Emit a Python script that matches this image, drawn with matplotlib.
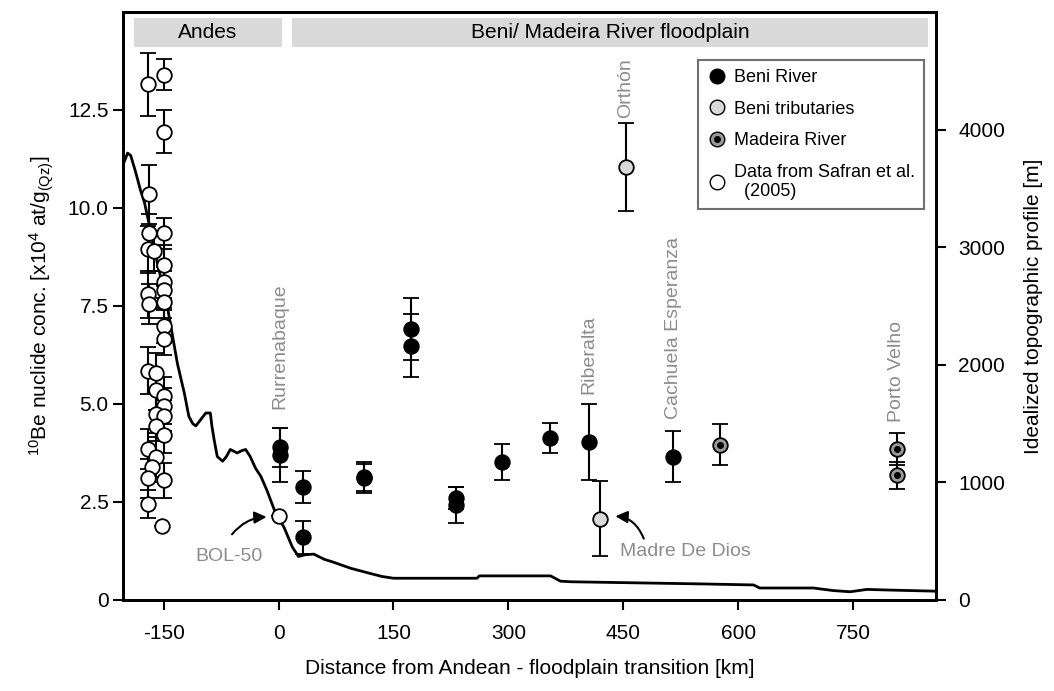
import numpy as np
import matplotlib.pyplot as plt
from matplotlib.lines import Line2D
from matplotlib.patches import Rectangle

plt.rcParams['font.family'] = ['Liberation Sans', 'DejaVu Sans']
plt.rcParams['mathtext.default'] = 'regular'
plt.rcParams['axes.unicode_minus'] = False

# Beni River (km, conc, 1 sigma)
beni_x = [2, 2, 32, 32, 111, 111, 173, 173, 232, 232, 291, 354, 405, 515]
beni_y = [3.9, 3.7, 2.88, 1.6, 3.15, 3.1, 6.92, 6.49, 2.6, 2.42, 3.52, 4.13, 4.03, 3.66]
beni_err = [0.5, 0.7, 0.4, 0.42, 0.38, 0.38, 0.79, 0.81, 0.28, 0.45, 0.45, 0.38, 0.98, 0.65]

# Beni tributaries (Madre De Dios, Orthon)
trib_x = [420, 453]
trib_y = [2.07, 11.05]
trib_err = [0.96, 1.12]

# Madeira River
mad_x = [576, 807, 807]
mad_y = [3.96, 3.86, 3.18]
mad_err = [0.52, 0.41, 0.34]

# Safran et al. (2005) + BOL-50
saf_x = [-170, -150, -150, -169, -169, -150, -171, -162, -150, -150, -150, -171,
         -169, -150, -150, -150, -171, -160, -160, -150, -150, -160, -150, -160,
         -150, -171, -160, -165, -171, -150, -171, -152, 0]
saf_y = [13.15, 13.4, 11.95, 10.35, 9.35, 9.35, 8.95, 8.9, 8.55, 8.1, 7.9, 7.8,
         7.55, 7.6, 7.0, 6.65, 5.85, 5.8, 5.35, 5.2, 4.95, 4.75, 4.7, 4.45,
         4.2, 3.85, 3.65, 3.4, 3.1, 3.05, 2.45, 1.9, 2.14]
saf_err = [0.8, 0.4, 0.55, 0.75, 0.5, 0.4, 0.6, 0.5, 0.5, 0.4, 0.5, 0.6,
           0.5, 0.4, 0.45, 0.4, 0.6, 0.5, 0.5, 0.5, 0.45, 0.5, 0.4, 0.4,
           0.45, 0.5, 0.5, 0.4, 0.5, 0.45, 0.35, 0.0, 0.0]

# idealized topographic profile (km, m)
prof_km = [-203, -197, -193, -187, -180, -175, -167, -158, -150, -145, -139, -132,
           -123, -117, -112, -108, -102, -95, -89, -87, -84, -80, -73, -68, -63,
           -54, -48, -43, -37, -30, -23, -15, -4, 7, 18, 26, 35, 46, 60, 70, 94,
           120, 135, 150, 200, 259, 262, 300, 355, 368, 381, 446, 550, 620, 628,
           698, 724, 746, 768, 794, 858]
prof_m = [3700, 3800, 3780, 3650, 3480, 3380, 3140, 2860, 2640, 2490, 2270, 2010,
          1760, 1560, 1500, 1480, 1530, 1590, 1590, 1480, 1360, 1220, 1180, 1220, 1280,
          1250, 1270, 1280, 1220, 1120, 1050, 930, 740, 620, 450, 370, 385, 390, 345, 325, 270,
          225, 200, 185, 185, 185, 205, 205, 205, 160, 155, 148, 137, 128, 102,
          102, 80, 70, 90, 85, 75]

site_names = ['Rurrenabaque', 'Riberalta', 'Cachuela Esperanza', 'Orthón', 'Porto Velho']
site_x = [2, 405, 515, 453, 807]
site_y = [4.87, 5.26, 4.62, 12.3, 4.54]

fig = plt.figure(figsize=(10.54, 6.91), dpi=100)
ax = fig.add_axes([0.1167, 0.1317, 0.7713, 0.851])
ax2 = ax.twinx()

ax2.plot(prof_km, prof_m, color='black', lw=2)
ax2.set_ylim(0, 5000)
ax2.set_yticks([0, 1000, 2000, 3000, 4000])
ax2.set_ylabel('Idealized topographic profile [m]', fontsize=15, labelpad=14)

ax.set_zorder(ax2.get_zorder() + 1)
ax.patch.set_visible(False)

eb = dict(capsize=6, elinewidth=1.5, capthick=1.5, ecolor='black', ms=10.5, mew=1.3, mec='black', ls='none')
ax.errorbar(saf_x, saf_y, yerr=saf_err, fmt='o', mfc='white', **eb)
ax.errorbar(beni_x, beni_y, yerr=beni_err, fmt='o', mfc='black', **eb)
ax.errorbar(trib_x, trib_y, yerr=trib_err, fmt='o', mfc='#d9d9d9', **eb)
ax.errorbar(mad_x, mad_y, yerr=mad_err, fmt='o', mfc='#999999', **eb)
ax.plot(mad_x, mad_y, 'o', color='black', ms=4, ls='none', zorder=6)

for name, x, y in zip(site_names, site_x, site_y):
    ax.text(x, y, name, rotation=90, ha='center', va='bottom', color='#8c8c8c', fontsize=14)

ax.text(-21, 1.1, 'BOL-50', ha='right', va='center', color='#8c8c8c', fontsize=14)
ax.annotate('', xy=(-12, 2.12), xytext=(-63, 1.62),
            arrowprops=dict(arrowstyle='-|>', connectionstyle='arc3,rad=-0.25', color='black', lw=1.5, mutation_scale=18))
ax.text(445, 1.24, 'Madre De Dios', ha='left', va='center', color='#8c8c8c', fontsize=14)
ax.annotate('', xy=(436, 2.14), xytext=(478, 1.5),
            arrowprops=dict(arrowstyle='-|>', connectionstyle='angle3,angleA=110,angleB=0', color='black', lw=1.5, mutation_scale=18))

# header bars
ax.add_patch(Rectangle((-189, 14.1), 193, 0.75, color='#d9d9d9', lw=0))
ax.add_patch(Rectangle((18, 14.1), 830, 0.75, color='#d9d9d9', lw=0))
ax.text(-92, 14.47, 'Andes', ha='center', va='center', fontsize=15)
ax.text(433, 14.47, 'Beni/ Madeira River floodplain', ha='center', va='center', fontsize=15)

ax.set_xlim(-203, 858)
ax.set_ylim(0, 15)
ax.set_xticks([-150, 0, 150, 300, 450, 600, 750])
ax.set_yticks([0, 2.5, 5.0, 7.5, 10.0, 12.5])
ax.set_yticklabels(['0', '2.5', '5.0', '7.5', '10.0', '12.5'])
ax.set_xlabel('Distance from Andean - floodplain transition [km]', fontsize=15, labelpad=12)
ax.set_ylabel('$^{10}$Be nuclide conc. [x10$^{4}$ at/g$_{(Qz)}$]', fontsize=15, labelpad=8)

for a in (ax, ax2):
    a.tick_params(labelsize=15, width=1.5, length=7)
    for s in a.spines.values():
        s.set_linewidth(2)
ax.tick_params(axis='x', pad=10)
ax2.tick_params(axis='y', pad=9)

handles = [
    Line2D([], [], marker='o', ls='none', mfc='black', mec='black', ms=10.5),
    Line2D([], [], marker='o', ls='none', mfc='#d9d9d9', mec='black', ms=10.5),
    (Line2D([], [], marker='o', ls='none', mfc='#999999', mec='black', ms=10.5),
     Line2D([], [], marker='o', ls='none', color='black', ms=4)),
    Line2D([], [], marker='o', ls='none', mfc='white', mec='black', ms=10.5),
]
labels = ['Beni River', 'Beni tributaries', 'Madeira River', 'Data from Safran et al.\n  (2005)']
leg = ax.legend(handles, labels, loc='upper right', bbox_to_anchor=(0.985, 0.918),
                borderaxespad=0, fontsize=13, frameon=True, fancybox=False, framealpha=1,
                handletextpad=0.3, handlelength=1.2, borderpad=0.5, labelspacing=0.8)
leg.get_frame().set_edgecolor('#707070')
leg.get_frame().set_linewidth(1.5)

fig.savefig('out.png', dpi=100)
